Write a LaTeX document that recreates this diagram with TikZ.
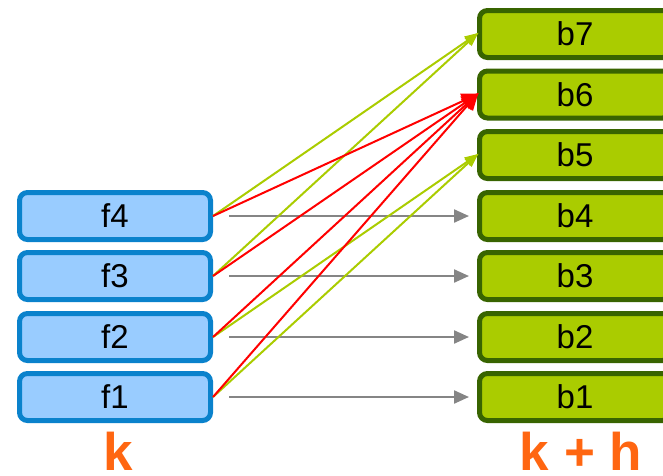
\documentclass[tikz,border=0pt]{standalone}
\usepackage{fontspec}
\setmainfont{Liberation Sans}
\usetikzlibrary{arrows.meta}
\definecolor{fblue}{HTML}{99CCFF}
\definecolor{bblue}{HTML}{0A82CC}
\definecolor{lgreen}{HTML}{AACC00}
\definecolor{dgreen}{HTML}{386400}
\definecolor{korange}{HTML}{FF6611}
\definecolor{agray}{HTML}{858585}
\tikzset{
  fbox/.style={draw=bblue, fill=fblue, line width=5pt, rounded corners=8pt,
    minimum width=191pt, minimum height=47pt, inner sep=0pt,
    font=\fontsize{33}{36}\selectfont},
  bbox/.style={fbox, draw=dgreen, fill=lgreen},
  grayarr/.style={draw=agray, line width=2.2pt, -{Triangle[length=15pt,width=13pt]},
    shorten <=16pt, shorten >=8pt},
  greenarr/.style={draw=lgreen, line width=2pt, -{Triangle[length=14pt,width=10pt]}, shorten >=-2pt},
  redarr/.style={draw=red, line width=2pt, -{Triangle[length=17pt,width=15pt]}, shorten >=-2pt},
  lbl/.style={text=korange, font=\fontsize{53}{60}\selectfont\bfseries, anchor=base, inner sep=0pt}
}
\begin{document}
\begin{tikzpicture}[x=1pt,y=-1pt]
\useasboundingbox (0,0) rectangle (663,475);
\node[fbox] (f4) at (115,216) {f4};
\node[fbox] (f3) at (115,276) {f3};
\node[fbox] (f2) at (115,337) {f2};
\node[fbox] (f1) at (115,397) {f1};
\node[bbox] (b7) at (575,34) {b7};
\node[bbox] (b6) at (575,94.5) {b6};
\node[bbox] (b5) at (575,155) {b5};
\node[bbox] (b4) at (575,216) {b4};
\node[bbox] (b3) at (575,276) {b3};
\node[bbox] (b2) at (575,337) {b2};
\node[bbox] (b1) at (575,397) {b1};
\draw[grayarr] (f4.east) -- (b4.west);
\draw[grayarr] (f3.east) -- (b3.west);
\draw[grayarr] (f2.east) -- (b2.west);
\draw[grayarr] (f1.east) -- (b1.west);
\draw[greenarr] (f4.east) -- (b7.west);
\draw[greenarr] (f3.east) -- (b7.west);
\draw[greenarr] (f2.east) -- (b5.west);
\draw[greenarr] (f1.east) -- (b5.west);
\draw[redarr] (f4.east) -- (b6.west);
\draw[redarr] (f3.east) -- (b6.west);
\draw[redarr] (f2.east) -- (b6.west);
\draw[redarr] (f1.east) -- (b6.west);
\node[lbl] (k) at (118,470) {k};
\node[lbl] (kh) at (581,470) {k + h};
\end{tikzpicture}
\end{document}
